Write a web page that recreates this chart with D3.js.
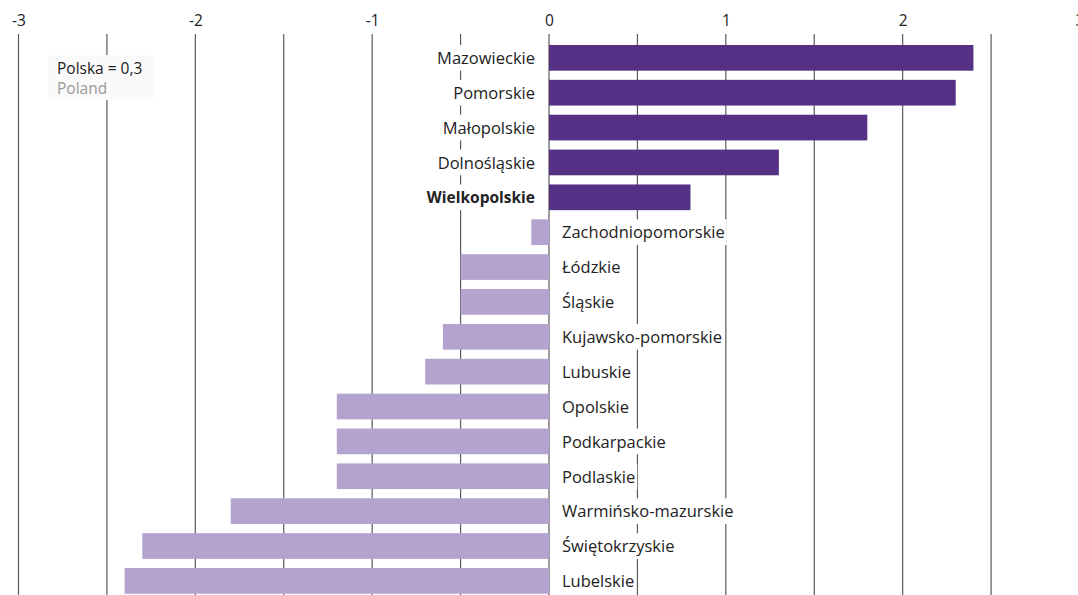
<!DOCTYPE html>
<html><head><meta charset="utf-8">
<script src="https://cdn.jsdelivr.net/npm/d3@7"></script>
<style>
body{margin:0;background:#fff;}
svg{display:block;font-family:"Open Sans","Noto Sans",sans-serif;}
</style></head>
<body>
<svg id="chart" width="1078" height="595"></svg>
<script>
const regions = ["Mazowieckie","Pomorskie","Małopolskie","Dolnośląskie","Wielkopolskie","Zachodniopomorskie","Łódzkie","Śląskie","Kujawsko-pomorskie","Lubuskie","Opolskie","Podkarpackie","Podlaskie","Warmińsko-mazurskie","Świętokrzyskie","Lubelskie"];
const values = [2.4,2.3,1.8,1.3,0.8,-0.1,-0.5,-0.5,-0.6,-0.7,-1.2,-1.2,-1.2,-1.8,-2.3,-2.4];
const highlighted = ["Wielkopolskie"];
const tickValues = [-3,-2,-1,0,1,2,3];
const gridValues = [-3,-2.5,-2,-1.5,-1,-0.5,0,0.5,1,1.5,2,2.5,3];
const legendLines = ["Polska = 0,3","Poland"];

const svg = d3.select("#chart");
const x = d3.scaleLinear().domain([-3,3]).range([18.5,1079.5]);
const y = d3.scaleBand().domain(regions).range([40.4,598.3]).paddingInner(0.263).paddingOuter(0.1315);

// grid
svg.append("g").selectAll("line").data(gridValues).join("line")
  .attr("x1",d=>x(d)).attr("x2",d=>x(d)).attr("y1",34).attr("y2",595)
  .attr("stroke","#5a5a5a").attr("stroke-width",1.2);

// axis labels
const ax = svg.append("g").attr("transform","translate(0,26)")
  .call(d3.axisTop(x).tickValues(tickValues).tickSize(0).tickPadding(0).tickFormat(d3.format("d")));
ax.select(".domain").remove();
ax.selectAll("text").attr("font-size",15.5).attr("fill","#222").attr("font-family","Open Sans").text(d=>d<0?"-"+Math.abs(d):d);

// legend
const lg = svg.append("g");
lg.append("rect").attr("x",48).attr("y",55).attr("width",106).attr("height",45).attr("fill","#fafafa");
lg.append("text").attr("x",57).attr("y",74).attr("font-size",15.5).attr("fill","#222").text(legendLines[0]);
lg.append("text").attr("x",57).attr("y",94).attr("font-size",15.5).attr("fill","#999").text(legendLines[1]);

// bars
svg.append("g").selectAll("rect").data(regions).join("rect")
  .attr("x",(d,i)=>x(Math.min(0,values[i])))
  .attr("width",(d,i)=>Math.abs(x(values[i])-x(0)))
  .attr("y",d=>y(d)).attr("height",y.bandwidth())
  .attr("fill",(d,i)=>values[i]>=0?"#553185":"#b3a3ce");

// labels with white backgrounds
const lab = svg.append("g").selectAll("g").data(regions).join("g");
lab.append("text")
  .attr("x",(d,i)=>values[i]>=0?x(0)-14:x(0)+13)
  .attr("y",d=>y(d)+y.bandwidth()/2)
  .attr("dy","0.38em")
  .attr("text-anchor",(d,i)=>values[i]>=0?"end":"start")
  .attr("font-size",d=>highlighted.includes(d)?15.5:16.5)
  .attr("font-weight",d=>highlighted.includes(d)?"bold":"normal")
  .attr("fill","#222")
  .text(d=>d);
lab.each(function(d){
  const g=d3.select(this); const t=g.select("text").node(); const b=t.getBBox();
  g.insert("rect","text").attr("x",b.x-2).attr("y",y(d)).attr("width",b.width+4).attr("height",y.bandwidth()).attr("fill","#fff");
});
</script>
</body></html>
